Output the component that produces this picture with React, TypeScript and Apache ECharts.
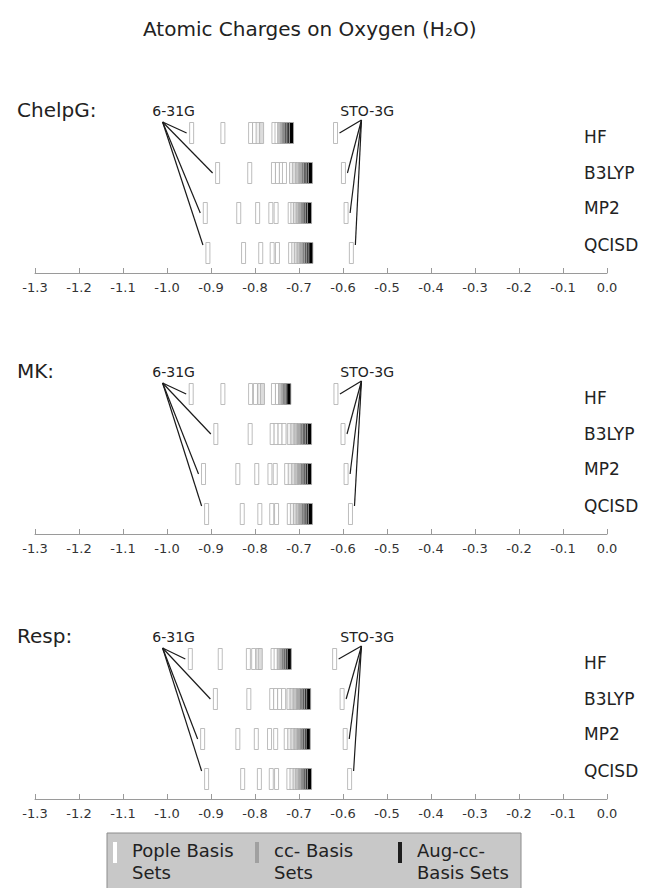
import React, { useEffect, useRef } from 'react';
import * as echarts from 'echarts';

// ---------- data ----------
const methods = ['HF', 'B3LYP', 'MP2', 'QCISD'];
const panelNames = ['ChelpG:', 'MK:', 'Resp:'];
const legendNames = ['Pople Basis\nSets', 'cc- Basis\nSets', 'Aug-cc-\nBasis Sets'];

// order of the 15 basis sets in each row:
// [STO-3G, 6-31G, 5 further Pople sets, 4 cc- sets, 4 aug-cc- sets]
const basisFamily = [0, 0, 0, 0, 0, 0, 0, 1, 1, 1, 1, 2, 2, 2, 2];
const basisShade = [0, 0, 0, 0, 0, 0, 0, 1, 2, 3, 4, 5, 6, 7, 8];

const chelpgHF = [-0.617, -0.944, -0.873, -0.810, -0.801, -0.757, -0.750, -0.793, -0.785, -0.744, -0.738, -0.734, -0.729, -0.723, -0.717];
const chelpgB3LYP = [-0.599, -0.885, -0.812, -0.758, -0.749, -0.740, -0.733, -0.717, -0.710, -0.703, -0.696, -0.690, -0.685, -0.679, -0.674];
const chelpgMP2 = [-0.593, -0.913, -0.837, -0.794, -0.764, -0.752, -0.720, -0.714, -0.708, -0.702, -0.697, -0.691, -0.686, -0.681, -0.676];
const chelpgQCISD = [-0.581, -0.907, -0.826, -0.787, -0.761, -0.749, -0.719, -0.712, -0.706, -0.700, -0.694, -0.688, -0.683, -0.678, -0.673];

const mkHF = [-0.616, -0.945, -0.873, -0.810, -0.799, -0.758, -0.749, -0.789, -0.783, -0.742, -0.736, -0.733, -0.729, -0.726, -0.723];
const mkB3LYP = [-0.600, -0.889, -0.811, -0.761, -0.752, -0.743, -0.734, -0.722, -0.714, -0.707, -0.700, -0.693, -0.687, -0.681, -0.676];
const mkMP2 = [-0.593, -0.917, -0.839, -0.796, -0.766, -0.754, -0.728, -0.720, -0.712, -0.705, -0.699, -0.692, -0.686, -0.681, -0.676];
const mkQCISD = [-0.583, -0.910, -0.829, -0.789, -0.762, -0.751, -0.722, -0.715, -0.708, -0.702, -0.696, -0.690, -0.684, -0.679, -0.674];

const respHF = [-0.619, -0.947, -0.879, -0.815, -0.803, -0.759, -0.752, -0.793, -0.788, -0.745, -0.739, -0.735, -0.730, -0.726, -0.722];
const respB3LYP = [-0.602, -0.890, -0.814, -0.762, -0.753, -0.744, -0.735, -0.723, -0.716, -0.709, -0.701, -0.694, -0.688, -0.683, -0.678];
const respMP2 = [-0.595, -0.919, -0.839, -0.797, -0.767, -0.753, -0.729, -0.721, -0.714, -0.707, -0.700, -0.693, -0.688, -0.683, -0.679];
const respQCISD = [-0.585, -0.910, -0.828, -0.790, -0.763, -0.751, -0.723, -0.716, -0.709, -0.703, -0.697, -0.691, -0.686, -0.681, -0.676];

const panels = [
  [chelpgHF, chelpgB3LYP, chelpgMP2, chelpgQCISD],
  [mkHF, mkB3LYP, mkMP2, mkQCISD],
  [respHF, respB3LYP, respMP2, respQCISD],
];

// ---------- styles / layout ----------
const FONT = '"DejaVu Sans", "Noto Sans", sans-serif';
const INK = '#222';
const barPalette = ['#ffffff', '#f0f0f0', '#dcdcdc', '#c4c4c4', '#a8a8a8', '#808080', '#5a5a5a', '#333333', '#000000'];
const familyColor = ['#ffffff', '#a8a8a8', '#1e1e1e'];
const axisY = [273, 534, 799];
const PANEL_H = 160;
const rowLabelNudge = [4, 0, -5, -8];
const leaderEndNudge = [0, 0, 0, -8];

const barRender = (params: any, api: any) => {
  const c = api.coord([api.value(0), api.value(1) + 0.5]);
  return {
    type: 'rect',
    shape: { x: c[0] - 2, y: c[1] - 10.5, width: 4, height: 21 },
    style: { fill: barPalette[api.value(2)], stroke: '#acacac', lineWidth: 0.8 },
  };
};

const annotRender = (params: any, api: any) => {
  const cs = params.coordSys;
  const row = api.value(2);
  const sto = api.coord([api.value(0), row + 0.5]);
  const g = api.coord([api.value(1), row + 0.5]);
  const gAx = api.coord([-1.01, 0])[0];
  const sAx = api.coord([-0.558, 0])[0];
  const dy = leaderEndNudge[row];
  const children: any[] = [
    { type: 'line', shape: { x1: gAx, y1: cs.y + 9, x2: g[0] - 5, y2: g[1] + dy }, style: { stroke: '#1a1a1a', lineWidth: 1.2 } },
    { type: 'line', shape: { x1: sAx, y1: cs.y + 7, x2: sto[0] + 4, y2: sto[1] + dy }, style: { stroke: '#1a1a1a', lineWidth: 1.2 } },
    {
      type: 'text',
      style: {
        text: methods[row], x: api.coord([-0.052, 0])[0], y: g[1] + rowLabelNudge[row],
        fill: INK, fontSize: 17, fontFamily: FONT, align: 'left', verticalAlign: 'middle',
      },
    },
  ];
  if (row === 0) {
    children.push({
      type: 'text',
      style: { text: '6-31G', x: api.coord([-0.985, 0])[0], y: cs.y - 2, fill: INK, fontSize: 14, fontFamily: FONT, align: 'center', verticalAlign: 'middle' },
    });
    children.push({
      type: 'text',
      style: { text: 'STO-3G', x: api.coord([-0.545, 0])[0], y: cs.y - 2, fill: INK, fontSize: 14, fontFamily: FONT, align: 'center', verticalAlign: 'middle' },
    });
  }
  return { type: 'group', children };
};

function buildOption() {
  const grids: any[] = [];
  const xAxes: any[] = [];
  const yAxes: any[] = [];
  const series: any[] = [];
  const titles: any[] = [
    {
      text: 'Atomic Charges on Oxygen (H\u2082O)',
      left: 138,
      top: 14,
      textStyle: { fontFamily: FONT, fontSize: 20, fontWeight: 'normal', color: INK },
    },
  ];

  panels.forEach((rows, p) => {
    grids.push({ left: 35, right: 45, top: axisY[p] - PANEL_H, height: PANEL_H });
    xAxes.push({
      gridIndex: p, type: 'value', position: 'bottom', min: -1.3, max: 0, interval: 0.1,
      axisLine: { onZero: false, lineStyle: { color: '#9a9a9a', width: 1 } },
      axisTick: { inside: true, length: 5, lineStyle: { color: '#9a9a9a' } },
      splitLine: { show: false },
      axisLabel: {
        formatter: (v: number) => (Math.abs(v) < 1e-9 ? 0 : v).toFixed(1),
        fontSize: 13, color: '#333', margin: 8, fontFamily: FONT,
      },
    });
    yAxes.push({ gridIndex: p, type: 'value', min: 0, max: 4, inverse: true, show: false });
    titles.push({
      text: panelNames[p], left: 12, top: axisY[p] - 178,
      textStyle: { fontFamily: FONT, fontSize: 20, fontWeight: 'normal', color: INK },
    });

    [0, 1, 2].forEach((fam) => {
      const data: any[] = [];
      rows.forEach((vals, r) => {
        vals.forEach((v, i) => {
          if (basisFamily[i] === fam) data.push([v, r, basisShade[i]]);
        });
      });
      series.push({
        type: 'custom', name: legendNames[fam], xAxisIndex: p, yAxisIndex: p,
        renderItem: barRender, encode: { x: 0, y: 1 }, data, clip: false,
        itemStyle: { color: familyColor[fam] }, silent: true,
      });
    });

    series.push({
      type: 'custom', name: 'annotations' + p, xAxisIndex: p, yAxisIndex: p,
      renderItem: annotRender, encode: { x: [0, 1], y: 2 }, clip: false, silent: true,
      data: rows.map((vals, r) => [vals[0], vals[1], r]),
    });
  });

  // legend box (drawn as graphics to match the two-line layout)
  const legendX = [113, 255, 398];
  const legendFill = ['#ffffff', '#a0a0a0', '#1e1e1e'];
  const legendChildren: any[] = [
    { type: 'rect', shape: { x: 107, y: 833, width: 414, height: 70 }, style: { fill: '#c8c8c8', stroke: '#8c8c8c', lineWidth: 1 } },
  ];
  legendNames.forEach((name, i) => {
    legendChildren.push({ type: 'rect', shape: { x: legendX[i], y: 842, width: 4, height: 21 }, style: { fill: legendFill[i] } });
    legendChildren.push({
      type: 'text', x: legendX[i] + 19, y: 839,
      style: { text: name, fill: INK, fontSize: 18, lineHeight: 22, fontFamily: FONT, align: 'left', verticalAlign: 'top' },
    });
  });

  return {
    animation: false,
    backgroundColor: '#ffffff',
    title: titles,
    grid: grids,
    xAxis: xAxes,
    yAxis: yAxes,
    series,
    graphic: [{ type: 'group', silent: true, children: legendChildren }],
  };
}

export default function App() {
  const ref = useRef<HTMLDivElement>(null);
  useEffect(() => {
    document.body.style.margin = '0';
    if (!ref.current) return;
    const chart = echarts.init(ref.current, undefined, { renderer: 'svg' });
    chart.setOption(buildOption() as any);
    return () => chart.dispose();
  }, []);
  return <div ref={ref} style={{ width: 652, height: 888 }} />;
}
